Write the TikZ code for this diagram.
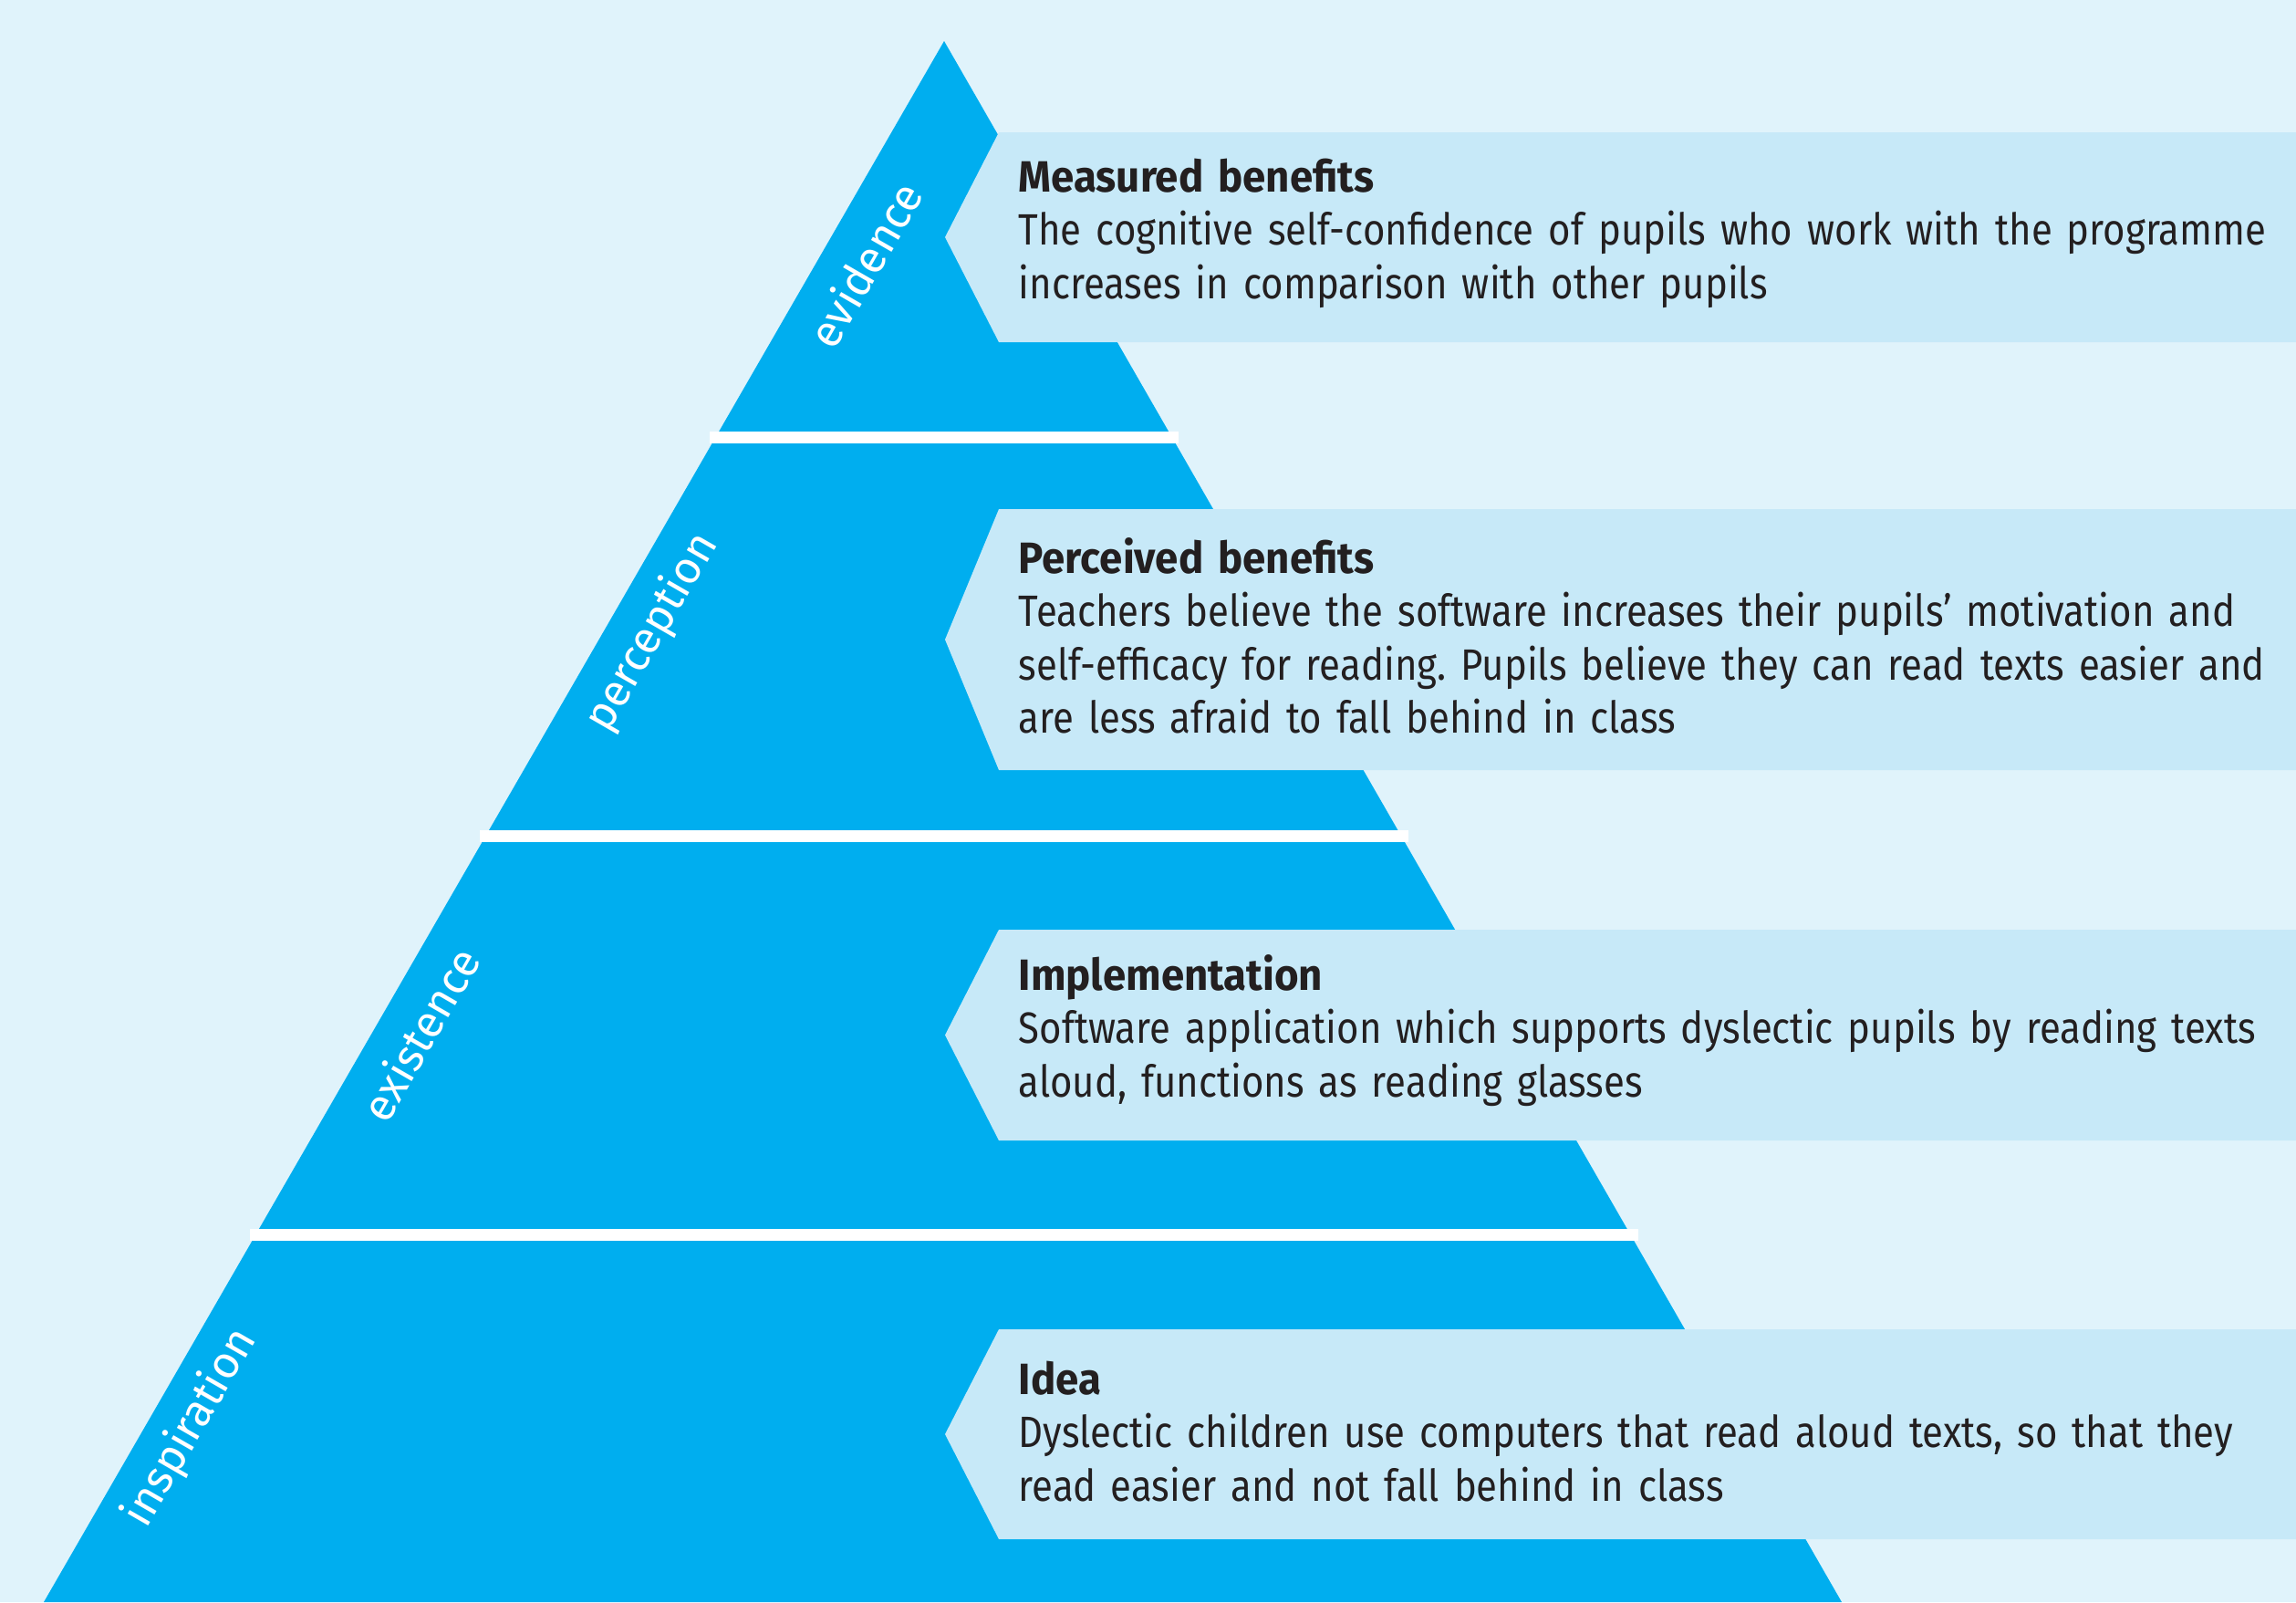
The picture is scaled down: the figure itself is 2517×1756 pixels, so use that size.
\documentclass[tikz,border=0pt]{standalone}
\usepackage{fontspec}
\setmainfont{Fira Sans}[FakeStretch=0.873, BoldFeatures={FakeStretch=0.95}]
\newfontfamily\tierfont{Fira Sans}
\usepackage{tikz}
\definecolor{bgblue}{HTML}{E0F3FB}
\definecolor{pyrblue}{HTML}{00AEEF}
\definecolor{boxblue}{HTML}{C7E9F8}
\definecolor{inkgray}{HTML}{231F20}
\frenchspacing

\tikzset{
	tierlabel/.style={rotate=60, text=white, inner sep=0pt,
		font=\tierfont\fontsize{14}{14}\selectfont},
	boxtext/.style={anchor=base west, inner sep=0pt, text width=15cm,
		align=left, text=inkgray, font=\fontsize{13.66}{16.64}\selectfont},
}

\begin{document}
\begin{tikzpicture}[x=0.01cm, y=-0.01cm]
				% background
				\fill[bgblue] (0,0) rectangle (2517,1756);
				\useasboundingbox (0,0) rectangle (2517,1756);
				% coordinates
				\coordinate (A) at (1035,45);
				\coordinate (B) at (48,1756);
				\coordinate (C) at (2019,1756);
				% pyramid
				\fill[pyrblue] (A) -- (B) -- (C) -- cycle;
				% white bars between the tiers
				\foreach \y in {473,910,1347}
					\fill[white] ({1035-0.5769*(\y-45)-10},\y) rectangle ({1035+0.5769*(\y-45)+10},\y+13);
				% callout boxes
				\foreach \t/\b in {145/375, 558/844, 1019/1250, 1457/1687}
					\fill[boxblue] (1036,{(\t+\b)/2}) -- (1095,\t) -- (2517,\t) -- (2517,\b) -- (1095,\b) -- cycle;
				% box texts
				\node[boxtext] (T1) at (1116,210) {\textbf{Measured benefits}\\
					The cognitive self-confidence of pupils who work with the programme\\
					increases in comparison with other pupils};
				\node[boxtext] (T2) at (1116,628) {\textbf{Perceived benefits}\\
					Teachers believe the software increases their pupils’ motivation and\\
					self-efficacy for reading. Pupils believe they can read texts easier and\\
					are less afraid to fall behind in class};
				\node[boxtext] (T3) at (1116,1085) {\textbf{Implementation}\\
					Software application which supports dyslectic pupils by reading texts\\
					aloud, functions as reading glasses};
				\node[boxtext] (T4) at (1116,1528) {\textbf{Idea}\\
					Dyslectic children use computers that read aloud texts, so that they\\
					read easier and not fall behind in class};
				% tier labels
				\node[tierlabel] (L1) at (948,290) {evidence};
				\node[tierlabel] (L2) at (715,693) {perception};
				\node[tierlabel] (L3) at (460,1133) {existence};
				\node[tierlabel] (L4) at (209,1565) {inspiration};
			\end{tikzpicture}
\end{document}
